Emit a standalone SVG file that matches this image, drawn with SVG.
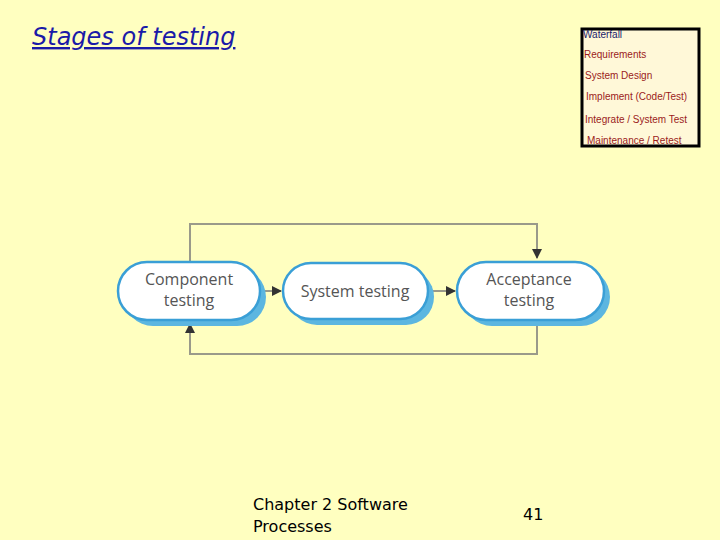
<svg xmlns="http://www.w3.org/2000/svg" width="720" height="540" viewBox="0 0 720 540">
<defs>
<style>
.sh{fill:#5cb6e0}
.pill{fill:#fff;stroke:#3a9fd6;stroke-width:2.5}
.lbl{font-family:"Open Sans","Liberation Sans",sans-serif;font-size:16px;fill:#555;text-anchor:middle}
.con{fill:none;stroke:#9a9a8a;stroke-width:2}
.wf{font-family:"Liberation Sans",Arial,sans-serif;font-size:10px;fill:#9b1b1b}
</style>
<marker id="ah" viewBox="0 0 10 10" refX="9" refY="5" markerWidth="5" markerHeight="5" orient="auto"><path d="M0,0L10,5L0,10z" fill="#333"/></marker>
</defs>
<rect width="720" height="540" fill="#ffffc0"/>
<text x="32" y="45" font-family="'Comic Sans MS','DejaVu Sans',sans-serif" font-style="italic" font-size="24" fill="#1a1aa8" text-decoration="underline">Stages of testing</text>
<g id="waterfall">
<rect x="582" y="29" width="117" height="117" fill="#fff8d8" stroke="#000" stroke-width="3"/>
<text x="583" y="38" font-family="Liberation Sans,sans-serif" font-size="10" fill="#1a1a6a">Waterfall</text>
<text x="584" y="58" class="wf">Requirements</text>
<text x="585" y="79" class="wf">System Design</text>
<text x="586" y="100" class="wf">Implement (Code/Test)</text>
<text x="585" y="123" class="wf">Integrate / System Test</text>
<text x="587" y="144" class="wf">Maintenance / Retest</text>
</g>
<g id="connectors">
<path class="con" d="M190,262V224H537V258" marker-end="url(#ah)"/>
<path class="con" d="M537,320V354H190V324" marker-end="url(#ah)"/>
<path class="con" d="M260,291H281" marker-end="url(#ah)"/>
<path class="con" d="M428,291H455" marker-end="url(#ah)"/>
</g>
<g id="n1"><rect class="sh" x="124" y="268" width="142" height="58" rx="29"/><rect class="pill" x="118" y="262" width="142" height="58" rx="29"/><text class="lbl" x="189" y="285">Component</text><text class="lbl" x="189" y="306">testing</text></g>
<g id="n2"><rect class="sh" x="289" y="269" width="145" height="56" rx="28"/><rect class="pill" x="283" y="263" width="145" height="56" rx="28"/><text class="lbl" x="355" y="297">System testing</text></g>
<g id="n3"><rect class="sh" x="463" y="268" width="147" height="58" rx="29"/><rect class="pill" x="457" y="262" width="147" height="58" rx="29"/><text class="lbl" x="529" y="285">Acceptance</text><text class="lbl" x="529" y="306">testing</text></g>
<text x="253" y="510" font-family="'Comic Sans MS','DejaVu Sans',sans-serif" font-size="16" fill="#000">Chapter 2 Software</text>
<text x="253" y="532" font-family="'Comic Sans MS','DejaVu Sans',sans-serif" font-size="16" fill="#000">Processes</text>
<text x="523" y="520" font-family="'Comic Sans MS','DejaVu Sans',sans-serif" font-size="16" fill="#000">41</text>
</svg>
